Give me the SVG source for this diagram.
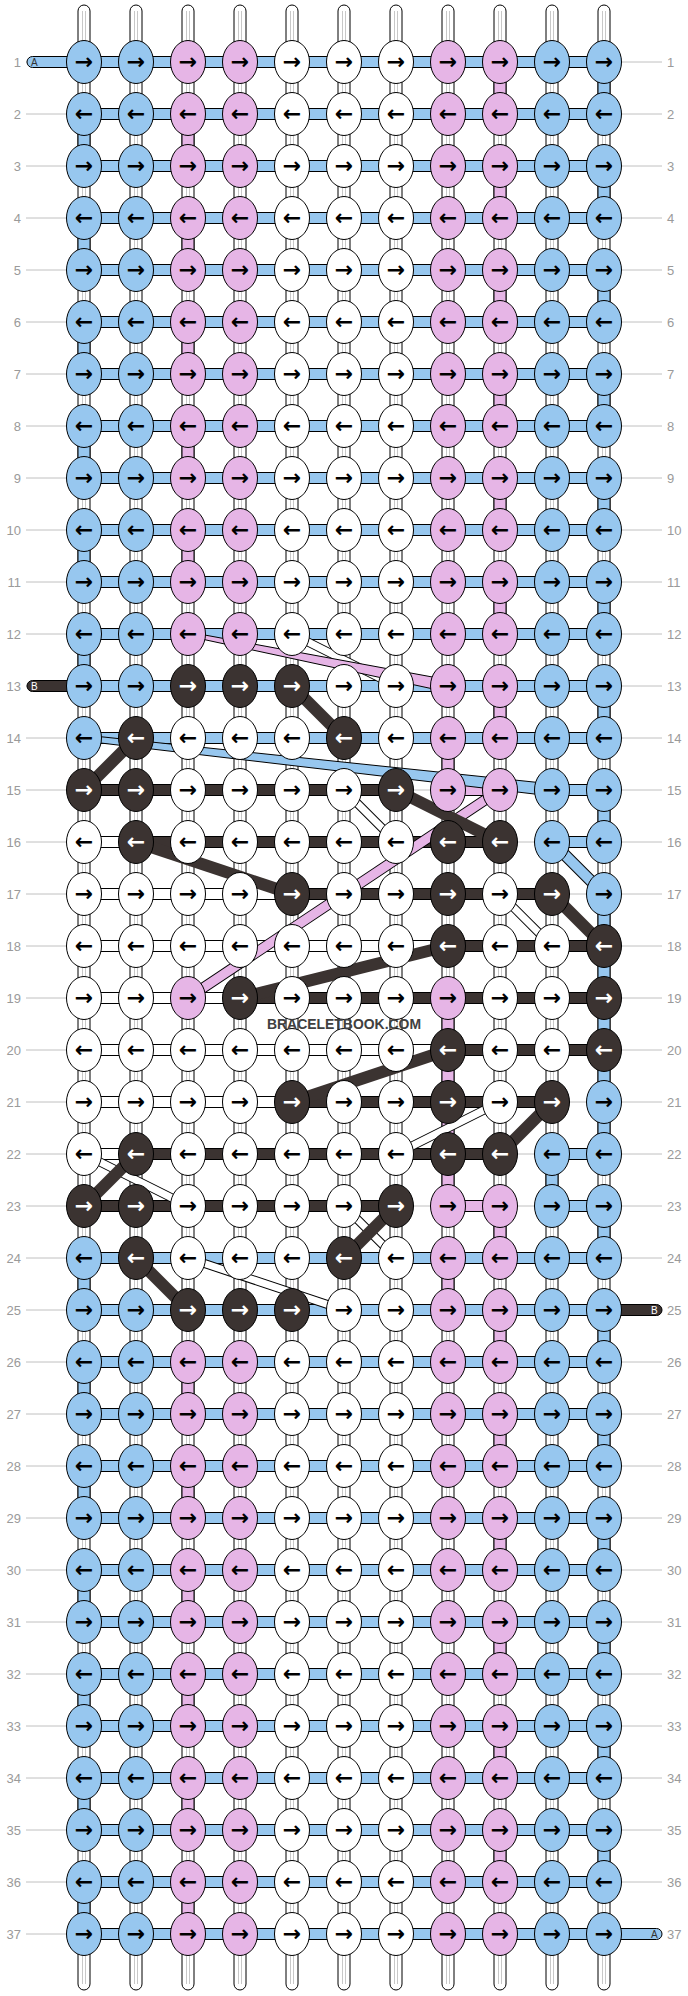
<svg xmlns="http://www.w3.org/2000/svg" width="688" height="1996" viewBox="0 0 688 1996">
<style>
.rl{stroke:#c0c0c0;stroke-width:1}
.lb{font-family:"Liberation Sans",Arial,sans-serif;font-size:13px;fill:#9a9a9a}
.lbr{text-anchor:start}
.lbl{text-anchor:end}
.tube{fill:#fff;stroke:#000;stroke-width:1}
.tl{stroke:#c8c8c8;stroke-width:1}
.hb{fill:#97c7ef;stroke:#000;stroke-width:1}
.hp{fill:#e6b5e6;stroke:#000;stroke-width:1}
.hw{fill:#fff;stroke:#000;stroke-width:1}
.hd{fill:#3b3331;stroke:#000;stroke-width:1}
.vb{fill:#97c7ef;stroke:#000;stroke-width:1}
.vp{fill:#e6b5e6;stroke:#000;stroke-width:1}
.fo{stroke:#000;stroke-linecap:butt}
.fdk{stroke:#3b3331;stroke-width:12;stroke-linecap:butt}
.fpk{stroke:#e6b5e6;stroke-width:9}
.fbl{stroke:#97c7ef;stroke-width:10}
.fwh{stroke:#fff;stroke-width:7}
ellipse{rx:17.5px;ry:21.5px;stroke:#000;stroke-width:1}
ellipse.b{fill:#97c7ef}
ellipse.p{fill:#e6b5e6}
ellipse.w{fill:#fff}
ellipse.d{fill:#3b3331}
.nodes text{font-family:"DejaVu Sans",sans-serif;font-weight:bold;font-size:22px;text-anchor:middle;fill:#000}
.nodes text.t{fill:#fff}
.tab{stroke:#000;stroke-width:1}
.tabt{font-family:"Liberation Sans",Arial,sans-serif;font-size:10px}
.wm{font-family:"Liberation Sans",Arial,sans-serif;font-weight:bold;font-size:15px;fill:#404040}
</style>

<g id="rowlines">
<line class="rl" x1="26" y1="62" x2="662" y2="62"/><line class="rl" x1="26" y1="114" x2="662" y2="114"/><line class="rl" x1="26" y1="166" x2="662" y2="166"/><line class="rl" x1="26" y1="218" x2="662" y2="218"/><line class="rl" x1="26" y1="270" x2="662" y2="270"/><line class="rl" x1="26" y1="322" x2="662" y2="322"/><line class="rl" x1="26" y1="374" x2="662" y2="374"/><line class="rl" x1="26" y1="426" x2="662" y2="426"/><line class="rl" x1="26" y1="478" x2="662" y2="478"/><line class="rl" x1="26" y1="530" x2="662" y2="530"/><line class="rl" x1="26" y1="582" x2="662" y2="582"/><line class="rl" x1="26" y1="634" x2="662" y2="634"/><line class="rl" x1="26" y1="686" x2="662" y2="686"/><line class="rl" x1="26" y1="738" x2="662" y2="738"/><line class="rl" x1="26" y1="790" x2="662" y2="790"/><line class="rl" x1="26" y1="842" x2="662" y2="842"/><line class="rl" x1="26" y1="894" x2="662" y2="894"/><line class="rl" x1="26" y1="946" x2="662" y2="946"/><line class="rl" x1="26" y1="998" x2="662" y2="998"/><line class="rl" x1="26" y1="1050" x2="662" y2="1050"/><line class="rl" x1="26" y1="1102" x2="662" y2="1102"/><line class="rl" x1="26" y1="1154" x2="662" y2="1154"/><line class="rl" x1="26" y1="1206" x2="662" y2="1206"/><line class="rl" x1="26" y1="1258" x2="662" y2="1258"/><line class="rl" x1="26" y1="1310" x2="662" y2="1310"/><line class="rl" x1="26" y1="1362" x2="662" y2="1362"/><line class="rl" x1="26" y1="1414" x2="662" y2="1414"/><line class="rl" x1="26" y1="1466" x2="662" y2="1466"/><line class="rl" x1="26" y1="1518" x2="662" y2="1518"/><line class="rl" x1="26" y1="1570" x2="662" y2="1570"/><line class="rl" x1="26" y1="1622" x2="662" y2="1622"/><line class="rl" x1="26" y1="1674" x2="662" y2="1674"/><line class="rl" x1="26" y1="1726" x2="662" y2="1726"/><line class="rl" x1="26" y1="1778" x2="662" y2="1778"/><line class="rl" x1="26" y1="1830" x2="662" y2="1830"/><line class="rl" x1="26" y1="1882" x2="662" y2="1882"/><line class="rl" x1="26" y1="1934" x2="662" y2="1934"/>
</g>

<g id="labels" class="lb">
<text class="lbl" x="21" y="66.5">1</text><text class="lbl" x="21" y="118.5">2</text><text class="lbl" x="21" y="170.5">3</text><text class="lbl" x="21" y="222.5">4</text><text class="lbl" x="21" y="274.5">5</text><text class="lbl" x="21" y="326.5">6</text><text class="lbl" x="21" y="378.5">7</text><text class="lbl" x="21" y="430.5">8</text><text class="lbl" x="21" y="482.5">9</text><text class="lbl" x="21" y="534.5">10</text><text class="lbl" x="21" y="586.5">11</text><text class="lbl" x="21" y="638.5">12</text><text class="lbl" x="21" y="690.5">13</text><text class="lbl" x="21" y="742.5">14</text><text class="lbl" x="21" y="794.5">15</text><text class="lbl" x="21" y="846.5">16</text><text class="lbl" x="21" y="898.5">17</text><text class="lbl" x="21" y="950.5">18</text><text class="lbl" x="21" y="1002.5">19</text><text class="lbl" x="21" y="1054.5">20</text><text class="lbl" x="21" y="1106.5">21</text><text class="lbl" x="21" y="1158.5">22</text><text class="lbl" x="21" y="1210.5">23</text><text class="lbl" x="21" y="1262.5">24</text><text class="lbl" x="21" y="1314.5">25</text><text class="lbl" x="21" y="1366.5">26</text><text class="lbl" x="21" y="1418.5">27</text><text class="lbl" x="21" y="1470.5">28</text><text class="lbl" x="21" y="1522.5">29</text><text class="lbl" x="21" y="1574.5">30</text><text class="lbl" x="21" y="1626.5">31</text><text class="lbl" x="21" y="1678.5">32</text><text class="lbl" x="21" y="1730.5">33</text><text class="lbl" x="21" y="1782.5">34</text><text class="lbl" x="21" y="1834.5">35</text><text class="lbl" x="21" y="1886.5">36</text><text class="lbl" x="21" y="1938.5">37</text>
<text class="lbr" x="667" y="66.5">1</text><text class="lbr" x="667" y="118.5">2</text><text class="lbr" x="667" y="170.5">3</text><text class="lbr" x="667" y="222.5">4</text><text class="lbr" x="667" y="274.5">5</text><text class="lbr" x="667" y="326.5">6</text><text class="lbr" x="667" y="378.5">7</text><text class="lbr" x="667" y="430.5">8</text><text class="lbr" x="667" y="482.5">9</text><text class="lbr" x="667" y="534.5">10</text><text class="lbr" x="667" y="586.5">11</text><text class="lbr" x="667" y="638.5">12</text><text class="lbr" x="667" y="690.5">13</text><text class="lbr" x="667" y="742.5">14</text><text class="lbr" x="667" y="794.5">15</text><text class="lbr" x="667" y="846.5">16</text><text class="lbr" x="667" y="898.5">17</text><text class="lbr" x="667" y="950.5">18</text><text class="lbr" x="667" y="1002.5">19</text><text class="lbr" x="667" y="1054.5">20</text><text class="lbr" x="667" y="1106.5">21</text><text class="lbr" x="667" y="1158.5">22</text><text class="lbr" x="667" y="1210.5">23</text><text class="lbr" x="667" y="1262.5">24</text><text class="lbr" x="667" y="1314.5">25</text><text class="lbr" x="667" y="1366.5">26</text><text class="lbr" x="667" y="1418.5">27</text><text class="lbr" x="667" y="1470.5">28</text><text class="lbr" x="667" y="1522.5">29</text><text class="lbr" x="667" y="1574.5">30</text><text class="lbr" x="667" y="1626.5">31</text><text class="lbr" x="667" y="1678.5">32</text><text class="lbr" x="667" y="1730.5">33</text><text class="lbr" x="667" y="1782.5">34</text><text class="lbr" x="667" y="1834.5">35</text><text class="lbr" x="667" y="1886.5">36</text><text class="lbr" x="667" y="1938.5">37</text>
</g>

<g id="connectors">
<g id="warps">
<rect class="tube" x="78" y="5" width="12" height="1985" rx="6"/><rect class="tube" x="130" y="5" width="12" height="1985" rx="6"/><rect class="tube" x="182" y="5" width="12" height="1985" rx="6"/><rect class="tube" x="234" y="5" width="12" height="1985" rx="6"/><rect class="tube" x="286" y="5" width="12" height="1985" rx="6"/><rect class="tube" x="338" y="5" width="12" height="1985" rx="6"/><rect class="tube" x="390" y="5" width="12" height="1985" rx="6"/><rect class="tube" x="442" y="5" width="12" height="1985" rx="6"/><rect class="tube" x="494" y="5" width="12" height="1985" rx="6"/><rect class="tube" x="546" y="5" width="12" height="1985" rx="6"/><rect class="tube" x="598" y="5" width="12" height="1985" rx="6"/>
<path class="tl" d="M82.5 11V1984M85.5 11V1984M134.5 11V1984M137.5 11V1984M186.5 11V1984M189.5 11V1984M238.5 11V1984M241.5 11V1984M290.5 11V1984M293.5 11V1984M342.5 11V1984M345.5 11V1984M394.5 11V1984M397.5 11V1984M446.5 11V1984M449.5 11V1984M498.5 11V1984M501.5 11V1984M550.5 11V1984M553.5 11V1984M602.5 11V1984M605.5 11V1984"/>
</g>
<g id="vertical">
<rect class="vb" x="78" y="124" width="12" height="32"/><rect class="vb" x="78" y="228" width="12" height="32"/><rect class="vb" x="78" y="332" width="12" height="32"/><rect class="vb" x="78" y="436" width="12" height="32"/><rect class="vb" x="78" y="540" width="12" height="32"/><rect class="vb" x="78" y="644" width="12" height="32"/><rect class="vb" x="78" y="1268" width="12" height="32"/><rect class="vb" x="78" y="1372" width="12" height="32"/><rect class="vb" x="78" y="1476" width="12" height="32"/><rect class="vb" x="78" y="1580" width="12" height="32"/><rect class="vb" x="78" y="1684" width="12" height="32"/><rect class="vb" x="78" y="1788" width="12" height="32"/><rect class="vb" x="78" y="1892" width="12" height="32"/>
<rect class="vb" x="598" y="72" width="12" height="32"/><rect class="vb" x="598" y="176" width="12" height="32"/><rect class="vb" x="598" y="280" width="12" height="32"/><rect class="vb" x="598" y="384" width="12" height="32"/><rect class="vb" x="598" y="488" width="12" height="32"/><rect class="vb" x="598" y="592" width="12" height="32"/><rect class="vb" x="598" y="696" width="12" height="32"/><rect class="vb" x="598" y="800" width="12" height="32"/><rect class="vb" x="598" y="904" width="12" height="32"/><rect class="vb" x="598" y="956" width="12" height="32"/><rect class="vb" x="598" y="1008" width="12" height="32"/><rect class="vb" x="598" y="1060" width="12" height="32"/><rect class="vb" x="598" y="1112" width="12" height="32"/><rect class="vb" x="598" y="1216" width="12" height="32"/><rect class="vb" x="598" y="1320" width="12" height="32"/><rect class="vb" x="598" y="1424" width="12" height="32"/><rect class="vb" x="598" y="1528" width="12" height="32"/><rect class="vb" x="598" y="1632" width="12" height="32"/><rect class="vb" x="598" y="1736" width="12" height="32"/><rect class="vb" x="598" y="1840" width="12" height="32"/>
<rect class="vb" x="546" y="1164" width="12" height="32"/>
<rect class="vp" x="182" y="124" width="12" height="32"/><rect class="vp" x="182" y="228" width="12" height="32"/><rect class="vp" x="182" y="332" width="12" height="32"/><rect class="vp" x="182" y="436" width="12" height="32"/><rect class="vp" x="182" y="540" width="12" height="32"/><rect class="vp" x="182" y="1372" width="12" height="32"/><rect class="vp" x="182" y="1476" width="12" height="32"/><rect class="vp" x="182" y="1580" width="12" height="32"/><rect class="vp" x="182" y="1684" width="12" height="32"/><rect class="vp" x="182" y="1788" width="12" height="32"/><rect class="vp" x="182" y="1892" width="12" height="32"/>
<rect class="vp" x="494" y="72" width="12" height="32"/><rect class="vp" x="494" y="176" width="12" height="32"/><rect class="vp" x="494" y="280" width="12" height="32"/><rect class="vp" x="494" y="384" width="12" height="32"/><rect class="vp" x="494" y="488" width="12" height="32"/><rect class="vp" x="494" y="592" width="12" height="32"/><rect class="vp" x="494" y="696" width="12" height="32"/><rect class="vp" x="494" y="1216" width="12" height="32"/><rect class="vp" x="494" y="1320" width="12" height="32"/><rect class="vp" x="494" y="1424" width="12" height="32"/><rect class="vp" x="494" y="1528" width="12" height="32"/><rect class="vp" x="494" y="1632" width="12" height="32"/><rect class="vp" x="494" y="1736" width="12" height="32"/><rect class="vp" x="494" y="1840" width="12" height="32"/>
<rect class="vp" x="442" y="748" width="12" height="32"/><rect class="vp" x="442" y="1008" width="12" height="32"/><rect class="vp" x="442" y="1060" width="12" height="32"/><rect class="vp" x="442" y="1112" width="12" height="32"/><rect class="vp" x="442" y="1164" width="12" height="32"/><rect class="vp" x="442" y="1268" width="12" height="32"/>
</g>
<g id="horizontal">
<rect class="hb" x="84" y="56.5" width="520" height="11"/><rect class="hb" x="84" y="108.5" width="520" height="11"/><rect class="hb" x="84" y="160.5" width="520" height="11"/><rect class="hb" x="84" y="212.5" width="520" height="11"/><rect class="hb" x="84" y="264.5" width="520" height="11"/><rect class="hb" x="84" y="316.5" width="520" height="11"/><rect class="hb" x="84" y="368.5" width="520" height="11"/><rect class="hb" x="84" y="420.5" width="520" height="11"/><rect class="hb" x="84" y="472.5" width="520" height="11"/><rect class="hb" x="84" y="524.5" width="520" height="11"/><rect class="hb" x="84" y="576.5" width="520" height="11"/><rect class="hb" x="84" y="628.5" width="520" height="11"/><rect class="hb" x="84" y="680.5" width="520" height="11"/><rect class="hb" x="84" y="732.5" width="520" height="11"/>
<rect class="hd" x="84" y="784.5" width="312" height="11"/><rect class="hp" x="448" y="784.5" width="52" height="11"/><rect class="hb" x="552" y="784.5" width="52" height="11"/>
<rect class="hw" x="84" y="836.5" width="52" height="11"/><rect class="hd" x="136" y="836.5" width="364" height="11"/><rect class="hb" x="552" y="836.5" width="52" height="11"/>
<rect class="hw" x="84" y="888.5" width="208" height="11"/><rect class="hd" x="292" y="888.5" width="260" height="11"/>
<rect class="hw" x="84" y="940.5" width="364" height="11"/><rect class="hd" x="448" y="940.5" width="156" height="11"/>
<rect class="hw" x="84" y="992.5" width="156" height="11"/><rect class="hd" x="240" y="992.5" width="364" height="11"/>
<rect class="hw" x="84" y="1044.5" width="364" height="11"/><rect class="hd" x="448" y="1044.5" width="156" height="11"/>
<rect class="hw" x="84" y="1096.5" width="208" height="11"/><rect class="hd" x="292" y="1096.5" width="260" height="11"/>
<rect class="hw" x="84" y="1148.5" width="52" height="11"/><rect class="hd" x="136" y="1148.5" width="364" height="11"/><rect class="hb" x="552" y="1148.5" width="52" height="11"/>
<rect class="hd" x="84" y="1200.5" width="312" height="11"/><rect class="hp" x="448" y="1200.5" width="52" height="11"/><rect class="hb" x="552" y="1200.5" width="52" height="11"/>
<rect class="hb" x="84" y="1252.5" width="520" height="11"/><rect class="hb" x="84" y="1304.5" width="520" height="11"/><rect class="hb" x="84" y="1356.5" width="520" height="11"/><rect class="hb" x="84" y="1408.5" width="520" height="11"/><rect class="hb" x="84" y="1460.5" width="520" height="11"/><rect class="hb" x="84" y="1512.5" width="520" height="11"/><rect class="hb" x="84" y="1564.5" width="520" height="11"/><rect class="hb" x="84" y="1616.5" width="520" height="11"/><rect class="hb" x="84" y="1668.5" width="520" height="11"/><rect class="hb" x="84" y="1720.5" width="520" height="11"/><rect class="hb" x="84" y="1772.5" width="520" height="11"/><rect class="hb" x="84" y="1824.5" width="520" height="11"/><rect class="hb" x="84" y="1876.5" width="520" height="11"/><rect class="hb" x="84" y="1928.5" width="520" height="11"/>
</g>
<g id="floats">
<line class="fo" stroke-width="9" x1="292" y1="634" x2="396" y2="686"/><line class="fwh" x1="292" y1="634" x2="396" y2="686"/>
<line class="fo" stroke-width="9" x1="344" y1="790" x2="396" y2="842"/><line class="fwh" x1="344" y1="790" x2="396" y2="842"/>
<line class="fo" stroke-width="9" x1="500" y1="894" x2="552" y2="946"/><line class="fwh" x1="500" y1="894" x2="552" y2="946"/>
<line class="fo" stroke-width="9" x1="500" y1="1102" x2="396" y2="1154"/><line class="fwh" x1="500" y1="1102" x2="396" y2="1154"/>
<line class="fo" stroke-width="9" x1="84" y1="1154" x2="188" y2="1206"/><line class="fwh" x1="84" y1="1154" x2="188" y2="1206"/>
<line class="fo" stroke-width="9" x1="344" y1="1206" x2="396" y2="1258"/><line class="fwh" x1="344" y1="1206" x2="396" y2="1258"/>
<line class="fo" stroke-width="9" x1="188" y1="1258" x2="344" y2="1310"/><line class="fwh" x1="188" y1="1258" x2="344" y2="1310"/>
<polygon fill="#e6b5e6" stroke="#000" points="187.6,636 446.8,691.9 449.2,680.1 188.4,632"/>
<polygon fill="#97c7ef" stroke="#000" points="83.7,741 551.3,796 552.7,784 84.3,735"/>
<line class="fo" stroke-width="11" x1="500" y1="790" x2="188" y2="998"/><line class="fpk" x1="500" y1="790" x2="188" y2="998"/>
<line class="fo" stroke-width="12" x1="552" y1="842" x2="604" y2="894"/><line class="fbl" x1="552" y1="842" x2="604" y2="894"/>
<line class="fdk" x1="292" y1="686" x2="344" y2="738"/>
<line class="fdk" x1="136" y1="738" x2="84" y2="790"/>
<line class="fdk" x1="396" y1="790" x2="500" y2="842"/>
<line class="fdk" x1="136" y1="842" x2="292" y2="894"/>
<line class="fdk" x1="552" y1="894" x2="604" y2="946"/>
<line class="fdk" x1="448" y1="946" x2="240" y2="998"/>
<line class="fdk" x1="448" y1="1050" x2="292" y2="1102"/>
<line class="fdk" x1="552" y1="1102" x2="500" y2="1154"/>
<line class="fdk" x1="136" y1="1154" x2="84" y2="1206"/>
<line class="fdk" x1="396" y1="1206" x2="344" y2="1258"/>
<line class="fdk" x1="136" y1="1258" x2="188" y2="1310"/>
</g>
<g id="tabs">
<rect class="tab" x="27" y="56.5" width="50" height="11" rx="5.5" fill="#97c7ef"/>
<rect class="tab" x="27" y="680.5" width="50" height="11" rx="5.5" fill="#3b3331"/>
<rect class="tab" x="611" y="1304.5" width="51" height="11" rx="5.5" fill="#3b3331"/>
<rect class="tab" x="611" y="1928.5" width="51" height="11" rx="5.5" fill="#97c7ef"/>
<text class="tabt" x="31" y="65.5" fill="#333">A</text>
<text class="tabt" x="31" y="689.5" fill="#fff">B</text>
<text class="tabt" x="651" y="1313.5" fill="#fff">B</text>
<text class="tabt" x="651" y="1937.5" fill="#333">A</text>
</g>
</g>

<g class="nodes">
<g id="row1" transform="translate(0 62)"><g id="n1-1"><ellipse class="b" cx="84"/><text x="84" y="7">→</text></g><g id="n1-2"><ellipse class="b" cx="136"/><text x="136" y="7">→</text></g><g id="n1-3"><ellipse class="p" cx="188"/><text x="188" y="7">→</text></g><g id="n1-4"><ellipse class="p" cx="240"/><text x="240" y="7">→</text></g><g id="n1-5"><ellipse class="w" cx="292"/><text x="292" y="7">→</text></g><g id="n1-6"><ellipse class="w" cx="344"/><text x="344" y="7">→</text></g><g id="n1-7"><ellipse class="w" cx="396"/><text x="396" y="7">→</text></g><g id="n1-8"><ellipse class="p" cx="448"/><text x="448" y="7">→</text></g><g id="n1-9"><ellipse class="p" cx="500"/><text x="500" y="7">→</text></g><g id="n1-10"><ellipse class="b" cx="552"/><text x="552" y="7">→</text></g><g id="n1-11"><ellipse class="b" cx="604"/><text x="604" y="7">→</text></g></g>
<g id="row2" transform="translate(0 114)"><g id="n2-1"><ellipse class="b" cx="84"/><text x="84" y="7">←</text></g><g id="n2-2"><ellipse class="b" cx="136"/><text x="136" y="7">←</text></g><g id="n2-3"><ellipse class="p" cx="188"/><text x="188" y="7">←</text></g><g id="n2-4"><ellipse class="p" cx="240"/><text x="240" y="7">←</text></g><g id="n2-5"><ellipse class="w" cx="292"/><text x="292" y="7">←</text></g><g id="n2-6"><ellipse class="w" cx="344"/><text x="344" y="7">←</text></g><g id="n2-7"><ellipse class="w" cx="396"/><text x="396" y="7">←</text></g><g id="n2-8"><ellipse class="p" cx="448"/><text x="448" y="7">←</text></g><g id="n2-9"><ellipse class="p" cx="500"/><text x="500" y="7">←</text></g><g id="n2-10"><ellipse class="b" cx="552"/><text x="552" y="7">←</text></g><g id="n2-11"><ellipse class="b" cx="604"/><text x="604" y="7">←</text></g></g>
<g id="row3" transform="translate(0 166)"><g id="n3-1"><ellipse class="b" cx="84"/><text x="84" y="7">→</text></g><g id="n3-2"><ellipse class="b" cx="136"/><text x="136" y="7">→</text></g><g id="n3-3"><ellipse class="p" cx="188"/><text x="188" y="7">→</text></g><g id="n3-4"><ellipse class="p" cx="240"/><text x="240" y="7">→</text></g><g id="n3-5"><ellipse class="w" cx="292"/><text x="292" y="7">→</text></g><g id="n3-6"><ellipse class="w" cx="344"/><text x="344" y="7">→</text></g><g id="n3-7"><ellipse class="w" cx="396"/><text x="396" y="7">→</text></g><g id="n3-8"><ellipse class="p" cx="448"/><text x="448" y="7">→</text></g><g id="n3-9"><ellipse class="p" cx="500"/><text x="500" y="7">→</text></g><g id="n3-10"><ellipse class="b" cx="552"/><text x="552" y="7">→</text></g><g id="n3-11"><ellipse class="b" cx="604"/><text x="604" y="7">→</text></g></g>
<g id="row4" transform="translate(0 218)"><g id="n4-1"><ellipse class="b" cx="84"/><text x="84" y="7">←</text></g><g id="n4-2"><ellipse class="b" cx="136"/><text x="136" y="7">←</text></g><g id="n4-3"><ellipse class="p" cx="188"/><text x="188" y="7">←</text></g><g id="n4-4"><ellipse class="p" cx="240"/><text x="240" y="7">←</text></g><g id="n4-5"><ellipse class="w" cx="292"/><text x="292" y="7">←</text></g><g id="n4-6"><ellipse class="w" cx="344"/><text x="344" y="7">←</text></g><g id="n4-7"><ellipse class="w" cx="396"/><text x="396" y="7">←</text></g><g id="n4-8"><ellipse class="p" cx="448"/><text x="448" y="7">←</text></g><g id="n4-9"><ellipse class="p" cx="500"/><text x="500" y="7">←</text></g><g id="n4-10"><ellipse class="b" cx="552"/><text x="552" y="7">←</text></g><g id="n4-11"><ellipse class="b" cx="604"/><text x="604" y="7">←</text></g></g>
<g id="row5" transform="translate(0 270)"><g id="n5-1"><ellipse class="b" cx="84"/><text x="84" y="7">→</text></g><g id="n5-2"><ellipse class="b" cx="136"/><text x="136" y="7">→</text></g><g id="n5-3"><ellipse class="p" cx="188"/><text x="188" y="7">→</text></g><g id="n5-4"><ellipse class="p" cx="240"/><text x="240" y="7">→</text></g><g id="n5-5"><ellipse class="w" cx="292"/><text x="292" y="7">→</text></g><g id="n5-6"><ellipse class="w" cx="344"/><text x="344" y="7">→</text></g><g id="n5-7"><ellipse class="w" cx="396"/><text x="396" y="7">→</text></g><g id="n5-8"><ellipse class="p" cx="448"/><text x="448" y="7">→</text></g><g id="n5-9"><ellipse class="p" cx="500"/><text x="500" y="7">→</text></g><g id="n5-10"><ellipse class="b" cx="552"/><text x="552" y="7">→</text></g><g id="n5-11"><ellipse class="b" cx="604"/><text x="604" y="7">→</text></g></g>
<g id="row6" transform="translate(0 322)"><g id="n6-1"><ellipse class="b" cx="84"/><text x="84" y="7">←</text></g><g id="n6-2"><ellipse class="b" cx="136"/><text x="136" y="7">←</text></g><g id="n6-3"><ellipse class="p" cx="188"/><text x="188" y="7">←</text></g><g id="n6-4"><ellipse class="p" cx="240"/><text x="240" y="7">←</text></g><g id="n6-5"><ellipse class="w" cx="292"/><text x="292" y="7">←</text></g><g id="n6-6"><ellipse class="w" cx="344"/><text x="344" y="7">←</text></g><g id="n6-7"><ellipse class="w" cx="396"/><text x="396" y="7">←</text></g><g id="n6-8"><ellipse class="p" cx="448"/><text x="448" y="7">←</text></g><g id="n6-9"><ellipse class="p" cx="500"/><text x="500" y="7">←</text></g><g id="n6-10"><ellipse class="b" cx="552"/><text x="552" y="7">←</text></g><g id="n6-11"><ellipse class="b" cx="604"/><text x="604" y="7">←</text></g></g>
<g id="row7" transform="translate(0 374)"><g id="n7-1"><ellipse class="b" cx="84"/><text x="84" y="7">→</text></g><g id="n7-2"><ellipse class="b" cx="136"/><text x="136" y="7">→</text></g><g id="n7-3"><ellipse class="p" cx="188"/><text x="188" y="7">→</text></g><g id="n7-4"><ellipse class="p" cx="240"/><text x="240" y="7">→</text></g><g id="n7-5"><ellipse class="w" cx="292"/><text x="292" y="7">→</text></g><g id="n7-6"><ellipse class="w" cx="344"/><text x="344" y="7">→</text></g><g id="n7-7"><ellipse class="w" cx="396"/><text x="396" y="7">→</text></g><g id="n7-8"><ellipse class="p" cx="448"/><text x="448" y="7">→</text></g><g id="n7-9"><ellipse class="p" cx="500"/><text x="500" y="7">→</text></g><g id="n7-10"><ellipse class="b" cx="552"/><text x="552" y="7">→</text></g><g id="n7-11"><ellipse class="b" cx="604"/><text x="604" y="7">→</text></g></g>
<g id="row8" transform="translate(0 426)"><g id="n8-1"><ellipse class="b" cx="84"/><text x="84" y="7">←</text></g><g id="n8-2"><ellipse class="b" cx="136"/><text x="136" y="7">←</text></g><g id="n8-3"><ellipse class="p" cx="188"/><text x="188" y="7">←</text></g><g id="n8-4"><ellipse class="p" cx="240"/><text x="240" y="7">←</text></g><g id="n8-5"><ellipse class="w" cx="292"/><text x="292" y="7">←</text></g><g id="n8-6"><ellipse class="w" cx="344"/><text x="344" y="7">←</text></g><g id="n8-7"><ellipse class="w" cx="396"/><text x="396" y="7">←</text></g><g id="n8-8"><ellipse class="p" cx="448"/><text x="448" y="7">←</text></g><g id="n8-9"><ellipse class="p" cx="500"/><text x="500" y="7">←</text></g><g id="n8-10"><ellipse class="b" cx="552"/><text x="552" y="7">←</text></g><g id="n8-11"><ellipse class="b" cx="604"/><text x="604" y="7">←</text></g></g>
<g id="row9" transform="translate(0 478)"><g id="n9-1"><ellipse class="b" cx="84"/><text x="84" y="7">→</text></g><g id="n9-2"><ellipse class="b" cx="136"/><text x="136" y="7">→</text></g><g id="n9-3"><ellipse class="p" cx="188"/><text x="188" y="7">→</text></g><g id="n9-4"><ellipse class="p" cx="240"/><text x="240" y="7">→</text></g><g id="n9-5"><ellipse class="w" cx="292"/><text x="292" y="7">→</text></g><g id="n9-6"><ellipse class="w" cx="344"/><text x="344" y="7">→</text></g><g id="n9-7"><ellipse class="w" cx="396"/><text x="396" y="7">→</text></g><g id="n9-8"><ellipse class="p" cx="448"/><text x="448" y="7">→</text></g><g id="n9-9"><ellipse class="p" cx="500"/><text x="500" y="7">→</text></g><g id="n9-10"><ellipse class="b" cx="552"/><text x="552" y="7">→</text></g><g id="n9-11"><ellipse class="b" cx="604"/><text x="604" y="7">→</text></g></g>
<g id="row10" transform="translate(0 530)"><g id="n10-1"><ellipse class="b" cx="84"/><text x="84" y="7">←</text></g><g id="n10-2"><ellipse class="b" cx="136"/><text x="136" y="7">←</text></g><g id="n10-3"><ellipse class="p" cx="188"/><text x="188" y="7">←</text></g><g id="n10-4"><ellipse class="p" cx="240"/><text x="240" y="7">←</text></g><g id="n10-5"><ellipse class="w" cx="292"/><text x="292" y="7">←</text></g><g id="n10-6"><ellipse class="w" cx="344"/><text x="344" y="7">←</text></g><g id="n10-7"><ellipse class="w" cx="396"/><text x="396" y="7">←</text></g><g id="n10-8"><ellipse class="p" cx="448"/><text x="448" y="7">←</text></g><g id="n10-9"><ellipse class="p" cx="500"/><text x="500" y="7">←</text></g><g id="n10-10"><ellipse class="b" cx="552"/><text x="552" y="7">←</text></g><g id="n10-11"><ellipse class="b" cx="604"/><text x="604" y="7">←</text></g></g>
<g id="row11" transform="translate(0 582)"><g id="n11-1"><ellipse class="b" cx="84"/><text x="84" y="7">→</text></g><g id="n11-2"><ellipse class="b" cx="136"/><text x="136" y="7">→</text></g><g id="n11-3"><ellipse class="p" cx="188"/><text x="188" y="7">→</text></g><g id="n11-4"><ellipse class="p" cx="240"/><text x="240" y="7">→</text></g><g id="n11-5"><ellipse class="w" cx="292"/><text x="292" y="7">→</text></g><g id="n11-6"><ellipse class="w" cx="344"/><text x="344" y="7">→</text></g><g id="n11-7"><ellipse class="w" cx="396"/><text x="396" y="7">→</text></g><g id="n11-8"><ellipse class="p" cx="448"/><text x="448" y="7">→</text></g><g id="n11-9"><ellipse class="p" cx="500"/><text x="500" y="7">→</text></g><g id="n11-10"><ellipse class="b" cx="552"/><text x="552" y="7">→</text></g><g id="n11-11"><ellipse class="b" cx="604"/><text x="604" y="7">→</text></g></g>
<g id="row12" transform="translate(0 634)"><g id="n12-1"><ellipse class="b" cx="84"/><text x="84" y="7">←</text></g><g id="n12-2"><ellipse class="b" cx="136"/><text x="136" y="7">←</text></g><g id="n12-3"><ellipse class="p" cx="188"/><text x="188" y="7">←</text></g><g id="n12-4"><ellipse class="p" cx="240"/><text x="240" y="7">←</text></g><g id="n12-5"><ellipse class="w" cx="292"/><text x="292" y="7">←</text></g><g id="n12-6"><ellipse class="w" cx="344"/><text x="344" y="7">←</text></g><g id="n12-7"><ellipse class="w" cx="396"/><text x="396" y="7">←</text></g><g id="n12-8"><ellipse class="p" cx="448"/><text x="448" y="7">←</text></g><g id="n12-9"><ellipse class="p" cx="500"/><text x="500" y="7">←</text></g><g id="n12-10"><ellipse class="b" cx="552"/><text x="552" y="7">←</text></g><g id="n12-11"><ellipse class="b" cx="604"/><text x="604" y="7">←</text></g></g>
<g id="row13" transform="translate(0 686)"><g id="n13-1"><ellipse class="b" cx="84"/><text x="84" y="7">→</text></g><g id="n13-2"><ellipse class="b" cx="136"/><text x="136" y="7">→</text></g><g id="n13-3"><ellipse class="d" cx="188"/><text class="t" x="188" y="7">→</text></g><g id="n13-4"><ellipse class="d" cx="240"/><text class="t" x="240" y="7">→</text></g><g id="n13-5"><ellipse class="d" cx="292"/><text class="t" x="292" y="7">→</text></g><g id="n13-6"><ellipse class="w" cx="344"/><text x="344" y="7">→</text></g><g id="n13-7"><ellipse class="w" cx="396"/><text x="396" y="7">→</text></g><g id="n13-8"><ellipse class="p" cx="448"/><text x="448" y="7">→</text></g><g id="n13-9"><ellipse class="p" cx="500"/><text x="500" y="7">→</text></g><g id="n13-10"><ellipse class="b" cx="552"/><text x="552" y="7">→</text></g><g id="n13-11"><ellipse class="b" cx="604"/><text x="604" y="7">→</text></g></g>
<g id="row14" transform="translate(0 738)"><g id="n14-1"><ellipse class="b" cx="84"/><text x="84" y="7">←</text></g><g id="n14-2"><ellipse class="d" cx="136"/><text class="t" x="136" y="7">←</text></g><g id="n14-3"><ellipse class="w" cx="188"/><text x="188" y="7">←</text></g><g id="n14-4"><ellipse class="w" cx="240"/><text x="240" y="7">←</text></g><g id="n14-5"><ellipse class="w" cx="292"/><text x="292" y="7">←</text></g><g id="n14-6"><ellipse class="d" cx="344"/><text class="t" x="344" y="7">←</text></g><g id="n14-7"><ellipse class="w" cx="396"/><text x="396" y="7">←</text></g><g id="n14-8"><ellipse class="p" cx="448"/><text x="448" y="7">←</text></g><g id="n14-9"><ellipse class="p" cx="500"/><text x="500" y="7">←</text></g><g id="n14-10"><ellipse class="b" cx="552"/><text x="552" y="7">←</text></g><g id="n14-11"><ellipse class="b" cx="604"/><text x="604" y="7">←</text></g></g>
<g id="row15" transform="translate(0 790)"><g id="n15-1"><ellipse class="d" cx="84"/><text class="t" x="84" y="7">→</text></g><g id="n15-2"><ellipse class="d" cx="136"/><text class="t" x="136" y="7">→</text></g><g id="n15-3"><ellipse class="w" cx="188"/><text x="188" y="7">→</text></g><g id="n15-4"><ellipse class="w" cx="240"/><text x="240" y="7">→</text></g><g id="n15-5"><ellipse class="w" cx="292"/><text x="292" y="7">→</text></g><g id="n15-6"><ellipse class="w" cx="344"/><text x="344" y="7">→</text></g><g id="n15-7"><ellipse class="d" cx="396"/><text class="t" x="396" y="7">→</text></g><g id="n15-8"><ellipse class="p" cx="448"/><text x="448" y="7">→</text></g><g id="n15-9"><ellipse class="p" cx="500"/><text x="500" y="7">→</text></g><g id="n15-10"><ellipse class="b" cx="552"/><text x="552" y="7">→</text></g><g id="n15-11"><ellipse class="b" cx="604"/><text x="604" y="7">→</text></g></g>
<g id="row16" transform="translate(0 842)"><g id="n16-1"><ellipse class="w" cx="84"/><text x="84" y="7">←</text></g><g id="n16-2"><ellipse class="d" cx="136"/><text class="t" x="136" y="7">←</text></g><g id="n16-3"><ellipse class="w" cx="188"/><text x="188" y="7">←</text></g><g id="n16-4"><ellipse class="w" cx="240"/><text x="240" y="7">←</text></g><g id="n16-5"><ellipse class="w" cx="292"/><text x="292" y="7">←</text></g><g id="n16-6"><ellipse class="w" cx="344"/><text x="344" y="7">←</text></g><g id="n16-7"><ellipse class="w" cx="396"/><text x="396" y="7">←</text></g><g id="n16-8"><ellipse class="d" cx="448"/><text class="t" x="448" y="7">←</text></g><g id="n16-9"><ellipse class="d" cx="500"/><text class="t" x="500" y="7">←</text></g><g id="n16-10"><ellipse class="b" cx="552"/><text x="552" y="7">←</text></g><g id="n16-11"><ellipse class="b" cx="604"/><text x="604" y="7">←</text></g></g>
<g id="row17" transform="translate(0 894)"><g id="n17-1"><ellipse class="w" cx="84"/><text x="84" y="7">→</text></g><g id="n17-2"><ellipse class="w" cx="136"/><text x="136" y="7">→</text></g><g id="n17-3"><ellipse class="w" cx="188"/><text x="188" y="7">→</text></g><g id="n17-4"><ellipse class="w" cx="240"/><text x="240" y="7">→</text></g><g id="n17-5"><ellipse class="d" cx="292"/><text class="t" x="292" y="7">→</text></g><g id="n17-6"><ellipse class="w" cx="344"/><text x="344" y="7">→</text></g><g id="n17-7"><ellipse class="w" cx="396"/><text x="396" y="7">→</text></g><g id="n17-8"><ellipse class="d" cx="448"/><text class="t" x="448" y="7">→</text></g><g id="n17-9"><ellipse class="w" cx="500"/><text x="500" y="7">→</text></g><g id="n17-10"><ellipse class="d" cx="552"/><text class="t" x="552" y="7">→</text></g><g id="n17-11"><ellipse class="b" cx="604"/><text x="604" y="7">→</text></g></g>
<g id="row18" transform="translate(0 946)"><g id="n18-1"><ellipse class="w" cx="84"/><text x="84" y="7">←</text></g><g id="n18-2"><ellipse class="w" cx="136"/><text x="136" y="7">←</text></g><g id="n18-3"><ellipse class="w" cx="188"/><text x="188" y="7">←</text></g><g id="n18-4"><ellipse class="w" cx="240"/><text x="240" y="7">←</text></g><g id="n18-5"><ellipse class="w" cx="292"/><text x="292" y="7">←</text></g><g id="n18-6"><ellipse class="w" cx="344"/><text x="344" y="7">←</text></g><g id="n18-7"><ellipse class="w" cx="396"/><text x="396" y="7">←</text></g><g id="n18-8"><ellipse class="d" cx="448"/><text class="t" x="448" y="7">←</text></g><g id="n18-9"><ellipse class="w" cx="500"/><text x="500" y="7">←</text></g><g id="n18-10"><ellipse class="w" cx="552"/><text x="552" y="7">←</text></g><g id="n18-11"><ellipse class="d" cx="604"/><text class="t" x="604" y="7">←</text></g></g>
<g id="row19" transform="translate(0 998)"><g id="n19-1"><ellipse class="w" cx="84"/><text x="84" y="7">→</text></g><g id="n19-2"><ellipse class="w" cx="136"/><text x="136" y="7">→</text></g><g id="n19-3"><ellipse class="p" cx="188"/><text x="188" y="7">→</text></g><g id="n19-4"><ellipse class="d" cx="240"/><text class="t" x="240" y="7">→</text></g><g id="n19-5"><ellipse class="w" cx="292"/><text x="292" y="7">→</text></g><g id="n19-6"><ellipse class="w" cx="344"/><text x="344" y="7">→</text></g><g id="n19-7"><ellipse class="w" cx="396"/><text x="396" y="7">→</text></g><g id="n19-8"><ellipse class="p" cx="448"/><text x="448" y="7">→</text></g><g id="n19-9"><ellipse class="w" cx="500"/><text x="500" y="7">→</text></g><g id="n19-10"><ellipse class="w" cx="552"/><text x="552" y="7">→</text></g><g id="n19-11"><ellipse class="d" cx="604"/><text class="t" x="604" y="7">→</text></g></g>
<g id="row20" transform="translate(0 1050)"><g id="n20-1"><ellipse class="w" cx="84"/><text x="84" y="7">←</text></g><g id="n20-2"><ellipse class="w" cx="136"/><text x="136" y="7">←</text></g><g id="n20-3"><ellipse class="w" cx="188"/><text x="188" y="7">←</text></g><g id="n20-4"><ellipse class="w" cx="240"/><text x="240" y="7">←</text></g><g id="n20-5"><ellipse class="w" cx="292"/><text x="292" y="7">←</text></g><g id="n20-6"><ellipse class="w" cx="344"/><text x="344" y="7">←</text></g><g id="n20-7"><ellipse class="w" cx="396"/><text x="396" y="7">←</text></g><g id="n20-8"><ellipse class="d" cx="448"/><text class="t" x="448" y="7">←</text></g><g id="n20-9"><ellipse class="w" cx="500"/><text x="500" y="7">←</text></g><g id="n20-10"><ellipse class="w" cx="552"/><text x="552" y="7">←</text></g><g id="n20-11"><ellipse class="d" cx="604"/><text class="t" x="604" y="7">←</text></g></g>
<g id="row21" transform="translate(0 1102)"><g id="n21-1"><ellipse class="w" cx="84"/><text x="84" y="7">→</text></g><g id="n21-2"><ellipse class="w" cx="136"/><text x="136" y="7">→</text></g><g id="n21-3"><ellipse class="w" cx="188"/><text x="188" y="7">→</text></g><g id="n21-4"><ellipse class="w" cx="240"/><text x="240" y="7">→</text></g><g id="n21-5"><ellipse class="d" cx="292"/><text class="t" x="292" y="7">→</text></g><g id="n21-6"><ellipse class="w" cx="344"/><text x="344" y="7">→</text></g><g id="n21-7"><ellipse class="w" cx="396"/><text x="396" y="7">→</text></g><g id="n21-8"><ellipse class="d" cx="448"/><text class="t" x="448" y="7">→</text></g><g id="n21-9"><ellipse class="w" cx="500"/><text x="500" y="7">→</text></g><g id="n21-10"><ellipse class="d" cx="552"/><text class="t" x="552" y="7">→</text></g><g id="n21-11"><ellipse class="b" cx="604"/><text x="604" y="7">→</text></g></g>
<g id="row22" transform="translate(0 1154)"><g id="n22-1"><ellipse class="w" cx="84"/><text x="84" y="7">←</text></g><g id="n22-2"><ellipse class="d" cx="136"/><text class="t" x="136" y="7">←</text></g><g id="n22-3"><ellipse class="w" cx="188"/><text x="188" y="7">←</text></g><g id="n22-4"><ellipse class="w" cx="240"/><text x="240" y="7">←</text></g><g id="n22-5"><ellipse class="w" cx="292"/><text x="292" y="7">←</text></g><g id="n22-6"><ellipse class="w" cx="344"/><text x="344" y="7">←</text></g><g id="n22-7"><ellipse class="w" cx="396"/><text x="396" y="7">←</text></g><g id="n22-8"><ellipse class="d" cx="448"/><text class="t" x="448" y="7">←</text></g><g id="n22-9"><ellipse class="d" cx="500"/><text class="t" x="500" y="7">←</text></g><g id="n22-10"><ellipse class="b" cx="552"/><text x="552" y="7">←</text></g><g id="n22-11"><ellipse class="b" cx="604"/><text x="604" y="7">←</text></g></g>
<g id="row23" transform="translate(0 1206)"><g id="n23-1"><ellipse class="d" cx="84"/><text class="t" x="84" y="7">→</text></g><g id="n23-2"><ellipse class="d" cx="136"/><text class="t" x="136" y="7">→</text></g><g id="n23-3"><ellipse class="w" cx="188"/><text x="188" y="7">→</text></g><g id="n23-4"><ellipse class="w" cx="240"/><text x="240" y="7">→</text></g><g id="n23-5"><ellipse class="w" cx="292"/><text x="292" y="7">→</text></g><g id="n23-6"><ellipse class="w" cx="344"/><text x="344" y="7">→</text></g><g id="n23-7"><ellipse class="d" cx="396"/><text class="t" x="396" y="7">→</text></g><g id="n23-8"><ellipse class="p" cx="448"/><text x="448" y="7">→</text></g><g id="n23-9"><ellipse class="p" cx="500"/><text x="500" y="7">→</text></g><g id="n23-10"><ellipse class="b" cx="552"/><text x="552" y="7">→</text></g><g id="n23-11"><ellipse class="b" cx="604"/><text x="604" y="7">→</text></g></g>
<g id="row24" transform="translate(0 1258)"><g id="n24-1"><ellipse class="b" cx="84"/><text x="84" y="7">←</text></g><g id="n24-2"><ellipse class="d" cx="136"/><text class="t" x="136" y="7">←</text></g><g id="n24-3"><ellipse class="w" cx="188"/><text x="188" y="7">←</text></g><g id="n24-4"><ellipse class="w" cx="240"/><text x="240" y="7">←</text></g><g id="n24-5"><ellipse class="w" cx="292"/><text x="292" y="7">←</text></g><g id="n24-6"><ellipse class="d" cx="344"/><text class="t" x="344" y="7">←</text></g><g id="n24-7"><ellipse class="w" cx="396"/><text x="396" y="7">←</text></g><g id="n24-8"><ellipse class="p" cx="448"/><text x="448" y="7">←</text></g><g id="n24-9"><ellipse class="p" cx="500"/><text x="500" y="7">←</text></g><g id="n24-10"><ellipse class="b" cx="552"/><text x="552" y="7">←</text></g><g id="n24-11"><ellipse class="b" cx="604"/><text x="604" y="7">←</text></g></g>
<g id="row25" transform="translate(0 1310)"><g id="n25-1"><ellipse class="b" cx="84"/><text x="84" y="7">→</text></g><g id="n25-2"><ellipse class="b" cx="136"/><text x="136" y="7">→</text></g><g id="n25-3"><ellipse class="d" cx="188"/><text class="t" x="188" y="7">→</text></g><g id="n25-4"><ellipse class="d" cx="240"/><text class="t" x="240" y="7">→</text></g><g id="n25-5"><ellipse class="d" cx="292"/><text class="t" x="292" y="7">→</text></g><g id="n25-6"><ellipse class="w" cx="344"/><text x="344" y="7">→</text></g><g id="n25-7"><ellipse class="w" cx="396"/><text x="396" y="7">→</text></g><g id="n25-8"><ellipse class="p" cx="448"/><text x="448" y="7">→</text></g><g id="n25-9"><ellipse class="p" cx="500"/><text x="500" y="7">→</text></g><g id="n25-10"><ellipse class="b" cx="552"/><text x="552" y="7">→</text></g><g id="n25-11"><ellipse class="b" cx="604"/><text x="604" y="7">→</text></g></g>
<g id="row26" transform="translate(0 1362)"><g id="n26-1"><ellipse class="b" cx="84"/><text x="84" y="7">←</text></g><g id="n26-2"><ellipse class="b" cx="136"/><text x="136" y="7">←</text></g><g id="n26-3"><ellipse class="p" cx="188"/><text x="188" y="7">←</text></g><g id="n26-4"><ellipse class="p" cx="240"/><text x="240" y="7">←</text></g><g id="n26-5"><ellipse class="w" cx="292"/><text x="292" y="7">←</text></g><g id="n26-6"><ellipse class="w" cx="344"/><text x="344" y="7">←</text></g><g id="n26-7"><ellipse class="w" cx="396"/><text x="396" y="7">←</text></g><g id="n26-8"><ellipse class="p" cx="448"/><text x="448" y="7">←</text></g><g id="n26-9"><ellipse class="p" cx="500"/><text x="500" y="7">←</text></g><g id="n26-10"><ellipse class="b" cx="552"/><text x="552" y="7">←</text></g><g id="n26-11"><ellipse class="b" cx="604"/><text x="604" y="7">←</text></g></g>
<g id="row27" transform="translate(0 1414)"><g id="n27-1"><ellipse class="b" cx="84"/><text x="84" y="7">→</text></g><g id="n27-2"><ellipse class="b" cx="136"/><text x="136" y="7">→</text></g><g id="n27-3"><ellipse class="p" cx="188"/><text x="188" y="7">→</text></g><g id="n27-4"><ellipse class="p" cx="240"/><text x="240" y="7">→</text></g><g id="n27-5"><ellipse class="w" cx="292"/><text x="292" y="7">→</text></g><g id="n27-6"><ellipse class="w" cx="344"/><text x="344" y="7">→</text></g><g id="n27-7"><ellipse class="w" cx="396"/><text x="396" y="7">→</text></g><g id="n27-8"><ellipse class="p" cx="448"/><text x="448" y="7">→</text></g><g id="n27-9"><ellipse class="p" cx="500"/><text x="500" y="7">→</text></g><g id="n27-10"><ellipse class="b" cx="552"/><text x="552" y="7">→</text></g><g id="n27-11"><ellipse class="b" cx="604"/><text x="604" y="7">→</text></g></g>
<g id="row28" transform="translate(0 1466)"><g id="n28-1"><ellipse class="b" cx="84"/><text x="84" y="7">←</text></g><g id="n28-2"><ellipse class="b" cx="136"/><text x="136" y="7">←</text></g><g id="n28-3"><ellipse class="p" cx="188"/><text x="188" y="7">←</text></g><g id="n28-4"><ellipse class="p" cx="240"/><text x="240" y="7">←</text></g><g id="n28-5"><ellipse class="w" cx="292"/><text x="292" y="7">←</text></g><g id="n28-6"><ellipse class="w" cx="344"/><text x="344" y="7">←</text></g><g id="n28-7"><ellipse class="w" cx="396"/><text x="396" y="7">←</text></g><g id="n28-8"><ellipse class="p" cx="448"/><text x="448" y="7">←</text></g><g id="n28-9"><ellipse class="p" cx="500"/><text x="500" y="7">←</text></g><g id="n28-10"><ellipse class="b" cx="552"/><text x="552" y="7">←</text></g><g id="n28-11"><ellipse class="b" cx="604"/><text x="604" y="7">←</text></g></g>
<g id="row29" transform="translate(0 1518)"><g id="n29-1"><ellipse class="b" cx="84"/><text x="84" y="7">→</text></g><g id="n29-2"><ellipse class="b" cx="136"/><text x="136" y="7">→</text></g><g id="n29-3"><ellipse class="p" cx="188"/><text x="188" y="7">→</text></g><g id="n29-4"><ellipse class="p" cx="240"/><text x="240" y="7">→</text></g><g id="n29-5"><ellipse class="w" cx="292"/><text x="292" y="7">→</text></g><g id="n29-6"><ellipse class="w" cx="344"/><text x="344" y="7">→</text></g><g id="n29-7"><ellipse class="w" cx="396"/><text x="396" y="7">→</text></g><g id="n29-8"><ellipse class="p" cx="448"/><text x="448" y="7">→</text></g><g id="n29-9"><ellipse class="p" cx="500"/><text x="500" y="7">→</text></g><g id="n29-10"><ellipse class="b" cx="552"/><text x="552" y="7">→</text></g><g id="n29-11"><ellipse class="b" cx="604"/><text x="604" y="7">→</text></g></g>
<g id="row30" transform="translate(0 1570)"><g id="n30-1"><ellipse class="b" cx="84"/><text x="84" y="7">←</text></g><g id="n30-2"><ellipse class="b" cx="136"/><text x="136" y="7">←</text></g><g id="n30-3"><ellipse class="p" cx="188"/><text x="188" y="7">←</text></g><g id="n30-4"><ellipse class="p" cx="240"/><text x="240" y="7">←</text></g><g id="n30-5"><ellipse class="w" cx="292"/><text x="292" y="7">←</text></g><g id="n30-6"><ellipse class="w" cx="344"/><text x="344" y="7">←</text></g><g id="n30-7"><ellipse class="w" cx="396"/><text x="396" y="7">←</text></g><g id="n30-8"><ellipse class="p" cx="448"/><text x="448" y="7">←</text></g><g id="n30-9"><ellipse class="p" cx="500"/><text x="500" y="7">←</text></g><g id="n30-10"><ellipse class="b" cx="552"/><text x="552" y="7">←</text></g><g id="n30-11"><ellipse class="b" cx="604"/><text x="604" y="7">←</text></g></g>
<g id="row31" transform="translate(0 1622)"><g id="n31-1"><ellipse class="b" cx="84"/><text x="84" y="7">→</text></g><g id="n31-2"><ellipse class="b" cx="136"/><text x="136" y="7">→</text></g><g id="n31-3"><ellipse class="p" cx="188"/><text x="188" y="7">→</text></g><g id="n31-4"><ellipse class="p" cx="240"/><text x="240" y="7">→</text></g><g id="n31-5"><ellipse class="w" cx="292"/><text x="292" y="7">→</text></g><g id="n31-6"><ellipse class="w" cx="344"/><text x="344" y="7">→</text></g><g id="n31-7"><ellipse class="w" cx="396"/><text x="396" y="7">→</text></g><g id="n31-8"><ellipse class="p" cx="448"/><text x="448" y="7">→</text></g><g id="n31-9"><ellipse class="p" cx="500"/><text x="500" y="7">→</text></g><g id="n31-10"><ellipse class="b" cx="552"/><text x="552" y="7">→</text></g><g id="n31-11"><ellipse class="b" cx="604"/><text x="604" y="7">→</text></g></g>
<g id="row32" transform="translate(0 1674)"><g id="n32-1"><ellipse class="b" cx="84"/><text x="84" y="7">←</text></g><g id="n32-2"><ellipse class="b" cx="136"/><text x="136" y="7">←</text></g><g id="n32-3"><ellipse class="p" cx="188"/><text x="188" y="7">←</text></g><g id="n32-4"><ellipse class="p" cx="240"/><text x="240" y="7">←</text></g><g id="n32-5"><ellipse class="w" cx="292"/><text x="292" y="7">←</text></g><g id="n32-6"><ellipse class="w" cx="344"/><text x="344" y="7">←</text></g><g id="n32-7"><ellipse class="w" cx="396"/><text x="396" y="7">←</text></g><g id="n32-8"><ellipse class="p" cx="448"/><text x="448" y="7">←</text></g><g id="n32-9"><ellipse class="p" cx="500"/><text x="500" y="7">←</text></g><g id="n32-10"><ellipse class="b" cx="552"/><text x="552" y="7">←</text></g><g id="n32-11"><ellipse class="b" cx="604"/><text x="604" y="7">←</text></g></g>
<g id="row33" transform="translate(0 1726)"><g id="n33-1"><ellipse class="b" cx="84"/><text x="84" y="7">→</text></g><g id="n33-2"><ellipse class="b" cx="136"/><text x="136" y="7">→</text></g><g id="n33-3"><ellipse class="p" cx="188"/><text x="188" y="7">→</text></g><g id="n33-4"><ellipse class="p" cx="240"/><text x="240" y="7">→</text></g><g id="n33-5"><ellipse class="w" cx="292"/><text x="292" y="7">→</text></g><g id="n33-6"><ellipse class="w" cx="344"/><text x="344" y="7">→</text></g><g id="n33-7"><ellipse class="w" cx="396"/><text x="396" y="7">→</text></g><g id="n33-8"><ellipse class="p" cx="448"/><text x="448" y="7">→</text></g><g id="n33-9"><ellipse class="p" cx="500"/><text x="500" y="7">→</text></g><g id="n33-10"><ellipse class="b" cx="552"/><text x="552" y="7">→</text></g><g id="n33-11"><ellipse class="b" cx="604"/><text x="604" y="7">→</text></g></g>
<g id="row34" transform="translate(0 1778)"><g id="n34-1"><ellipse class="b" cx="84"/><text x="84" y="7">←</text></g><g id="n34-2"><ellipse class="b" cx="136"/><text x="136" y="7">←</text></g><g id="n34-3"><ellipse class="p" cx="188"/><text x="188" y="7">←</text></g><g id="n34-4"><ellipse class="p" cx="240"/><text x="240" y="7">←</text></g><g id="n34-5"><ellipse class="w" cx="292"/><text x="292" y="7">←</text></g><g id="n34-6"><ellipse class="w" cx="344"/><text x="344" y="7">←</text></g><g id="n34-7"><ellipse class="w" cx="396"/><text x="396" y="7">←</text></g><g id="n34-8"><ellipse class="p" cx="448"/><text x="448" y="7">←</text></g><g id="n34-9"><ellipse class="p" cx="500"/><text x="500" y="7">←</text></g><g id="n34-10"><ellipse class="b" cx="552"/><text x="552" y="7">←</text></g><g id="n34-11"><ellipse class="b" cx="604"/><text x="604" y="7">←</text></g></g>
<g id="row35" transform="translate(0 1830)"><g id="n35-1"><ellipse class="b" cx="84"/><text x="84" y="7">→</text></g><g id="n35-2"><ellipse class="b" cx="136"/><text x="136" y="7">→</text></g><g id="n35-3"><ellipse class="p" cx="188"/><text x="188" y="7">→</text></g><g id="n35-4"><ellipse class="p" cx="240"/><text x="240" y="7">→</text></g><g id="n35-5"><ellipse class="w" cx="292"/><text x="292" y="7">→</text></g><g id="n35-6"><ellipse class="w" cx="344"/><text x="344" y="7">→</text></g><g id="n35-7"><ellipse class="w" cx="396"/><text x="396" y="7">→</text></g><g id="n35-8"><ellipse class="p" cx="448"/><text x="448" y="7">→</text></g><g id="n35-9"><ellipse class="p" cx="500"/><text x="500" y="7">→</text></g><g id="n35-10"><ellipse class="b" cx="552"/><text x="552" y="7">→</text></g><g id="n35-11"><ellipse class="b" cx="604"/><text x="604" y="7">→</text></g></g>
<g id="row36" transform="translate(0 1882)"><g id="n36-1"><ellipse class="b" cx="84"/><text x="84" y="7">←</text></g><g id="n36-2"><ellipse class="b" cx="136"/><text x="136" y="7">←</text></g><g id="n36-3"><ellipse class="p" cx="188"/><text x="188" y="7">←</text></g><g id="n36-4"><ellipse class="p" cx="240"/><text x="240" y="7">←</text></g><g id="n36-5"><ellipse class="w" cx="292"/><text x="292" y="7">←</text></g><g id="n36-6"><ellipse class="w" cx="344"/><text x="344" y="7">←</text></g><g id="n36-7"><ellipse class="w" cx="396"/><text x="396" y="7">←</text></g><g id="n36-8"><ellipse class="p" cx="448"/><text x="448" y="7">←</text></g><g id="n36-9"><ellipse class="p" cx="500"/><text x="500" y="7">←</text></g><g id="n36-10"><ellipse class="b" cx="552"/><text x="552" y="7">←</text></g><g id="n36-11"><ellipse class="b" cx="604"/><text x="604" y="7">←</text></g></g>
<g id="row37" transform="translate(0 1934)"><g id="n37-1"><ellipse class="b" cx="84"/><text x="84" y="7">→</text></g><g id="n37-2"><ellipse class="b" cx="136"/><text x="136" y="7">→</text></g><g id="n37-3"><ellipse class="p" cx="188"/><text x="188" y="7">→</text></g><g id="n37-4"><ellipse class="p" cx="240"/><text x="240" y="7">→</text></g><g id="n37-5"><ellipse class="w" cx="292"/><text x="292" y="7">→</text></g><g id="n37-6"><ellipse class="w" cx="344"/><text x="344" y="7">→</text></g><g id="n37-7"><ellipse class="w" cx="396"/><text x="396" y="7">→</text></g><g id="n37-8"><ellipse class="p" cx="448"/><text x="448" y="7">→</text></g><g id="n37-9"><ellipse class="p" cx="500"/><text x="500" y="7">→</text></g><g id="n37-10"><ellipse class="b" cx="552"/><text x="552" y="7">→</text></g><g id="n37-11"><ellipse class="b" cx="604"/><text x="604" y="7">→</text></g></g>
</g>

<text class="wm" x="267" y="1029" textLength="154" lengthAdjust="spacingAndGlyphs">BRACELETBOOK.COM</text>
</svg>
